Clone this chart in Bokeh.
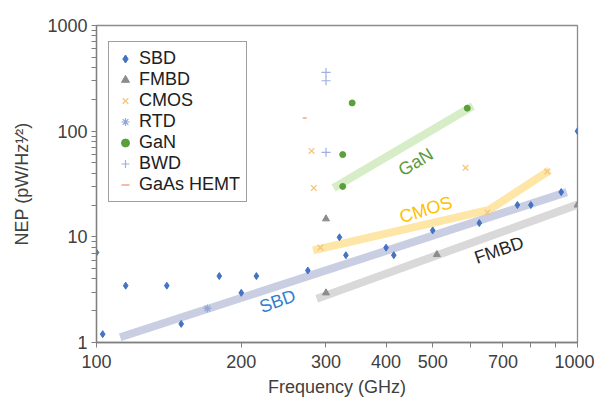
from bokeh.plotting import figure
from bokeh.models import FixedTicker, Legend, LegendItem
from bokeh.core.properties import value
from bokeh.embed import file_html
from bokeh.resources import INLINE
import math

FONT = "Liberation Sans"

# ---- data (GHz, pW/Hz^1/2) ----
sbd_x = [100, 103, 115, 140, 150, 180, 200, 215, 275, 320, 330, 400, 415, 500, 625, 750, 800, 925, 1000]
sbd_y = [7.1, 1.2, 3.45, 3.45, 1.5, 4.25, 2.95, 4.25, 4.8, 9.9, 6.7, 7.9, 6.7, 11.5, 13.5, 20, 20, 26.5, 100]
fmbd_x = [300, 300, 510, 1000]
fmbd_y = [14.8, 2.95, 6.8, 20]
cmos_x = [280, 283, 292, 585, 650, 865]
cmos_y = [65, 29, 7.9, 45, 17, 41.5]
rtd_x = [170]
rtd_y = [2.1]
gan_x = [325, 325, 340, 590]
gan_y = [30, 60, 185, 165]
bwd_x = [300, 300, 300]
bwd_y = [360, 300, 63]
gaas_x = [271]
gaas_y = [133]

# trend bands
sbd_band_x = [112, 950]
sbd_band_y = [1.12, 26.5]
fmbd_band_x = [287, 1000]
fmbd_band_y = [2.6, 20.2]
cmos_band_x = [282, 655, 875]
cmos_band_y = [7.45, 18, 42.5]
gan_band_x = [311, 606]
gan_band_y = [29, 173]

band_labels = ["SBD", "FMBD", "CMOS", "GaN"]
band_label_x = [238, 687, 484, 461]
band_label_y = [2.46, 7.5, 18.1, 50.9]
band_label_angle = [20, 19, 17, 31]
band_label_color = ["#2f7fd0", "#262626", "#ffc000", "#5b9a3c"]

x_ticks = [100, 200, 300, 400, 500, 600, 700, 800, 900, 1000]
x_hidden = [600, 800, 900]
y_ticks = [1, 10, 100, 1000]
y_minor = [m * d for d in (1, 10, 100) for m in range(2, 10)]

p = figure(width=594, height=399, x_axis_type="log", y_axis_type="log",
           x_range=(100, 1000), y_range=(1, 1000),
           output_backend="svg", toolbar_location=None,
           min_border_left=96, min_border_right=17, min_border_top=25, min_border_bottom=57)
p.grid.visible = False
p.outline_line_color = "#8c8c8c"
p.outline_line_width = 1.3
p.background_fill_color = "white"
p.border_fill_color = "white"

# bands
p.line(gan_band_x, gan_band_y, line_width=8, line_color="#d6edc8", line_cap="butt")
p.line(cmos_band_x, cmos_band_y, line_width=8, line_color="#fde6a6", line_cap="butt", line_join="round")
p.line(sbd_band_x, sbd_band_y, line_width=8, line_color="#c9cee2", line_cap="butt")
p.line(fmbd_band_x, fmbd_band_y, line_width=8, line_color="#d9d9d9", line_cap="butt")

# points
r_sbd = p.scatter(sbd_x, sbd_y, marker="diamond", size=7, color="#4472c4")
r_fmbd = p.scatter(fmbd_x, fmbd_y, marker="triangle", size=7, color="#8c8c8c")
r_cmos = p.scatter(cmos_x, cmos_y, marker="x", size=8, line_color="#f5c57c", line_width=1.3)
r_rtd = p.scatter(rtd_x, rtd_y, marker="asterisk", size=8, line_color="#8fa8d8", line_width=1.2)
r_gan = p.scatter(gan_x, gan_y, marker="circle", size=6, color="#5b9f3a")
r_bwd = p.scatter(bwd_x, bwd_y, marker="cross", size=9, line_color="#9fb0e0", line_width=1.2)
r_gaas = p.scatter(gaas_x, gaas_y, marker="dash", size=4, line_color="#f4a582", line_width=1.5)

# band labels
p.text(x=band_label_x, y=band_label_y, text=band_labels,
       angle=[math.radians(a) for a in band_label_angle],
       text_color=band_label_color, text_font=value(FONT), text_font_size="18px",
       text_align="center", text_baseline="middle")

# axes
xa = p.xaxis[0]
xa.ticker = FixedTicker(ticks=x_ticks, minor_ticks=[])
overrides = {t: ("" if t in x_hidden else str(t)) for t in x_ticks}
xa.major_label_overrides = overrides
xa.axis_label = "Frequency (GHz)"
ya = p.yaxis[0]
ya.ticker = FixedTicker(ticks=y_ticks, minor_ticks=y_minor)
ya.major_label_overrides = {t: str(t) for t in y_ticks}
ya.axis_label = "NEP (pW/Hz\u00b9\u2044\u00b2)"

for ax in (xa, ya):
    ax.axis_line_color = "#7f7f7f"
    ax.axis_line_width = 1.3
    ax.major_tick_line_color = "#7f7f7f"
    ax.minor_tick_line_color = "#7f7f7f"
    ax.major_tick_in = 0
    ax.major_tick_out = 5
    ax.minor_tick_in = 0
    ax.minor_tick_out = 5
    ax.major_label_text_font = FONT
    ax.major_label_text_font_size = "18px"
    ax.major_label_text_color = "#404040"
    ax.axis_label_text_font = FONT
    ax.axis_label_text_font_size = "18px"
    ax.axis_label_text_font_style = "normal"
    ax.axis_label_text_color = "#404040"
xa.major_label_standoff = 7
xa.axis_label_standoff = 6
ya.major_label_standoff = 4
ya.axis_label_standoff = 12

legend = Legend(items=[
    LegendItem(label="SBD", renderers=[r_sbd]),
    LegendItem(label="FMBD", renderers=[r_fmbd]),
    LegendItem(label="CMOS", renderers=[r_cmos]),
    LegendItem(label="RTD", renderers=[r_rtd]),
    LegendItem(label="GaN", renderers=[r_gan]),
    LegendItem(label="BWD", renderers=[r_bwd]),
    LegendItem(label="GaAs HEMT", renderers=[r_gaas]),
], location=(12, 140))
legend.label_text_font = FONT
legend.label_text_font_size = "18px"
legend.label_text_color = "#202020"
legend.label_height = 21
legend.glyph_height = 21
legend.glyph_width = 20
legend.label_standoff = 4
legend.spacing = 0
legend.padding = 6
legend.margin = 0
legend.border_line_color = "#404040"
legend.border_line_width = 1
legend.background_fill_alpha = 1
p.add_layout(legend)

open("out.html", "w").write(file_html(p, INLINE))
